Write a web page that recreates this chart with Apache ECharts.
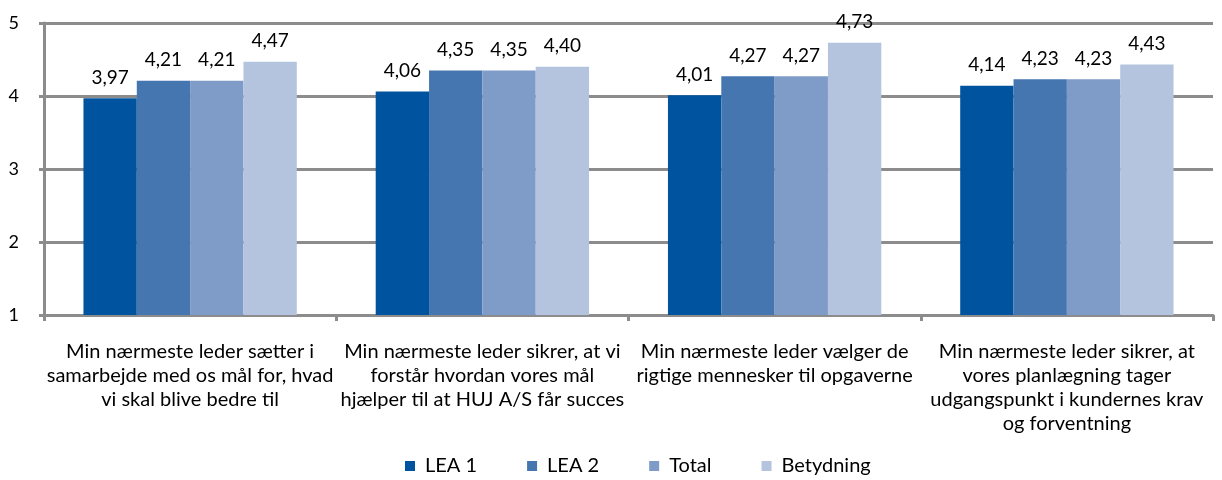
<!DOCTYPE html>
<html>
<head>
<meta charset="utf-8">
<script src="https://cdn.jsdelivr.net/npm/echarts@6/dist/echarts.min.js"></script>
<style>
  html, body { margin: 0; padding: 0; background: #fff; }
  #chart { width: 1222px; height: 480px; }
</style>
</head>
<body>
<div id="chart"></div>
<script>
// categories (line breaks as in the original)
var categories = [
  'Min nærmeste leder sætter i\nsamarbejde med os mål for, hvad\nvi skal blive bedre til',
  'Min nærmeste leder sikrer, at vi\nforstår hvordan vores mål\nhjælper til at HUJ A/S får succes',
  'Min nærmeste leder vælger de\nrigtige mennesker til opgaverne',
  'Min nærmeste leder sikrer, at\nvores planlægning tager\nudgangspunkt i kundernes krav\nog forventning'
]
var seriesNames = ['LEA 1', 'LEA 2', 'Total', 'Betydning']
var lea1 = [3.97, 4.06, 4.01, 4.14]
var lea2 = [4.21, 4.35, 4.27, 4.23]
var total = [4.21, 4.35, 4.27, 4.23]
var betydning = [4.47, 4.40, 4.73, 4.43]
var yTicks = [1, 2, 3, 4, 5]

var colors = ['#00539f', '#4676b0', '#7f9cc8', '#b4c4df']
var font = 'Lato, "Open Sans", sans-serif'

var chart = echarts.init(document.getElementById('chart'))

function makeSeries(name, data, i) {
  return {
    name: name,
    type: 'bar',
    data: data,
    barGap: '0%',
    barCategoryGap: '27%',
    itemStyle: { color: colors[i] },
    label: {
      show: true,
      position: 'top',
      distance: 11,
      color: '#000',
      fontSize: 19,
      fontFamily: font,
      formatter: function (p) {
        return p.value.toFixed(2).replace('.', ',')
      }
    }
  }
}

chart.setOption({
  animation: false,
  textStyle: { fontFamily: font },
  grid: {
    left: 44,
    right: 9,
    top: 23,
    bottom: 165
  },
  legend: {
    data: seriesNames,
    top: 451,
    left: 400,
    icon: 'rect',
    itemWidth: 10,
    itemHeight: 10,
    itemGap: 50,
    textStyle: { fontSize: 20, color: '#000', fontFamily: font, padding: [0, 0, 0, 5] }
  },
  xAxis: {
    type: 'category',
    data: categories,
    axisLine: { lineStyle: { color: '#8c8c8c', width: 3 } },
    axisTick: { show: true, length: 6, lineStyle: { color: '#8c8c8c', width: 3 } },
    axisLabel: {
      interval: 0,
      margin: 25,
      color: '#000',
      fontSize: 20,
      lineHeight: 24,
      fontFamily: font,
      align: 'center'
    }
  },
  yAxis: {
    type: 'value',
    min: yTicks[0],
    max: yTicks[yTicks.length - 1],
    interval: 1,
    axisLine: { show: true, lineStyle: { color: '#8c8c8c', width: 3 } },
    axisTick: { show: true, length: 5, lineStyle: { color: '#8c8c8c', width: 3 } },
    axisLabel: {
      margin: 25,
      color: '#000',
      fontSize: 18,
      fontFamily: font
    },
    splitLine: { lineStyle: { color: '#8c8c8c', width: 3 } }
  },
  series: [
    makeSeries(seriesNames[0], lea1, 0),
    makeSeries(seriesNames[1], lea2, 1),
    makeSeries(seriesNames[2], total, 2),
    makeSeries(seriesNames[3], betydning, 3)
  ]
})
</script>
</body>
</html>
